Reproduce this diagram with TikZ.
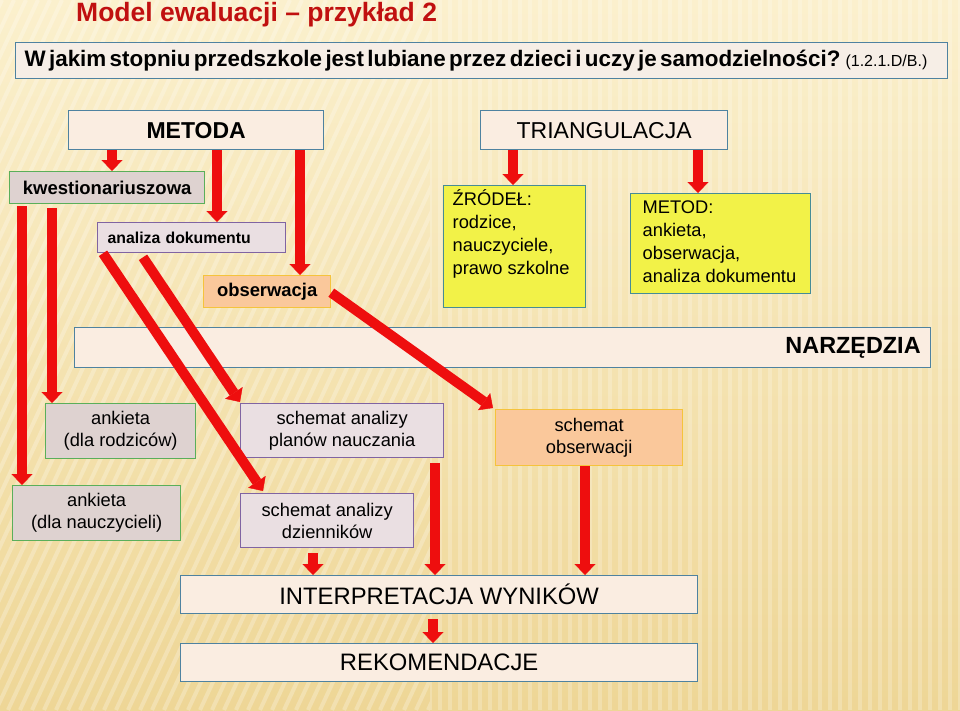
\documentclass[tikz,border=0pt]{standalone}
\usepackage{fontspec}
\setmainfont{Liberation Sans}
\usetikzlibrary{arrows.meta,calc}
\definecolor{bgtop}{RGB}{251,240,205}
\definecolor{bgbot}{RGB}{238,214,150}
\definecolor{titlered}{RGB}{192,16,16}
\definecolor{bluebd}{RGB}{78,130,160}
\definecolor{lightfill}{RGB}{250,237,225}
\definecolor{qfill}{RGB}{246,238,230}
\definecolor{greenbd}{RGB}{90,175,90}
\definecolor{greyfill}{RGB}{222,210,208}
\definecolor{purplebd}{RGB}{128,100,162}
\definecolor{purplefill}{RGB}{234,223,226}
\definecolor{orangefill}{RGB}{250,200,155}
\definecolor{goldbd}{RGB}{245,195,60}
\definecolor{yellowfill}{RGB}{242,242,72}
\definecolor{yellowbd}{RGB}{70,140,150}
\definecolor{arrowred}{RGB}{238,14,14}
\newcommand{\myfs}[2]{\fontsize{#1}{#2}\selectfont}
\begin{document}
\begin{tikzpicture}[x=1pt,y=-1pt,
  box/.style={draw, line width=1.3pt, inner sep=0pt, anchor=north west, align=center},
  lbox/.style={box, fill=lightfill, draw=bluebd},
  gbox/.style={box, fill=greyfill, draw=greenbd},
  pbox/.style={box, fill=purplefill, draw=purplebd},
  obox/.style={box, fill=orangefill, draw=goldbd},
  ybox/.style={box, fill=yellowfill, draw=yellowbd},
  arr/.style={draw=arrowred, line width=10pt, -{Triangle[width=21pt,length=11pt,line width=0.4pt]}},
  smalltxt/.style={font=\myfs{18.3}{22}}
]
\useasboundingbox (0,0) rectangle (960,710);
% background
\shade[top color=bgtop, bottom color=bgbot] (0,0) rectangle (960,710);
\begin{scope}
  \clip (0,0) rectangle (430,710);
  \foreach \i in {-400,-388,...,440} \draw[white, opacity=0.25, line width=4pt] (\i,710) -- ++(330,-710);
\end{scope}
\begin{scope}
  \clip (430,0) rectangle (960,710);
  \foreach \i in {430,440,...,960} \draw[white, opacity=0.22, line width=4pt] (\i,0) -- (\i,710);
\end{scope}

% x positions for vertical connectors
\coordinate (xA) at (112,0);
\coordinate (xB) at (217,0);
\coordinate (xC) at (300,0);
\coordinate (xD) at (513,0);
\coordinate (xE) at (698,0);
\coordinate (xF) at (22,0);
\coordinate (xG) at (52,0);
\coordinate (xH) at (435,0);
\coordinate (xI) at (313,0);
\coordinate (xJ) at (585,0);
\coordinate (xK) at (433,0);

% title
\node[anchor=base west, inner sep=0pt, text=titlered, font=\bfseries\myfs{26.5}{30}] (title) at (76,21) {Model ewaluacji – przykład 2};

% question
\node[lbox, fill=qfill, minimum width=932pt, minimum height=36pt, text width=914pt, align=left, inner xsep=9pt] (q) at (15,42)
  {{\bfseries\myfs{22.4}{26}W jakim stopniu przedszkole jest lubiane przez dzieci i uczy je samodzielności?} {\myfs{16}{20}(1.2.1.D/B.)}};

% top boxes
\node[lbox, minimum width=255pt, minimum height=39pt, font=\bfseries\myfs{23}{28}] (metoda) at (68,110) {METODA};
\node[lbox, minimum width=247pt, minimum height=39pt, font=\myfs{23}{28}] (tri) at (480,110) {TRIANGULACJA};

\node[gbox, minimum width=195pt, minimum height=32pt, font=\bfseries\myfs{18.5}{22}] (kw) at (9,171) {kwestionariuszowa};
\node[pbox, minimum width=188pt, minimum height=30pt, text width=168pt, inner xsep=10pt, align=left, font=\bfseries\myfs{15.8}{19}] (an) at (97,222) {analiza dokumentu};
\node[obox, minimum width=127pt, minimum height=32pt, font=\bfseries\myfs{18.4}{22}] (obs) at (203,275) {obserwacja};

\node[ybox, minimum width=142pt, minimum height=122pt] (zr) at (443,185)
  {\parbox[c][122pt][t]{124pt}{\raggedright\myfs{18.3}{23}\vspace*{4pt}ŹRÓDEŁ:\\rodzice,\\nauczyciele,\\prawo szkolne}};
\node[ybox, minimum width=180pt, minimum height=100pt] (met) at (630,193)
  {\parbox[c][100pt][t]{156pt}{\raggedright\myfs{18.3}{23}\vspace*{7pt}METOD:\\ankieta,\\obserwacja,\\analiza dokumentu}};

% tools bar
\node[lbox, minimum width=856pt, minimum height=40pt, text width=836pt, inner xsep=10pt, align=right, font=\bfseries\myfs{23.4}{28}] (narz) at (74,327) {NARZĘDZIA};

% tools
\node[gbox, minimum width=150pt, minimum height=55pt, smalltxt] (ank1) at (45,403) {ankieta\\(dla rodziców)};
\node[pbox, minimum width=203pt, minimum height=54pt, smalltxt] (plan) at (240,403) {schemat analizy\\planów nauczania};
\node[obox, minimum width=187pt, minimum height=56pt, smalltxt] (sobs) at (495,409) {schemat\\obserwacji};
\node[gbox, minimum width=168pt, minimum height=55pt, smalltxt] (ank2) at (12,485) {ankieta\\(dla nauczycieli)};
\node[pbox, minimum width=173pt, minimum height=54pt, smalltxt] (dz) at (240,493) {schemat analizy\\dzienników};

% results
\node[lbox, minimum width=517pt, minimum height=38pt, font=\myfs{23.8}{28}] (interp) at (180,575) {INTERPRETACJA WYNIKÓW};
\node[lbox, minimum width=517pt, minimum height=38pt, font=\myfs{23.8}{28}] (rek) at (180,643) {REKOMENDACJE};

% connectors
\draw[arr] (metoda.south -| xA) -- (kw.north -| xA);
\draw[arr] (metoda.south -| xB) -- (an.north -| xB);
\draw[arr] (metoda.south -| xC) -- (obs.north -| xC);
\draw[arr] (tri.south -| xD) -- (zr.north -| xD);
\draw[arr] (tri.south -| xE) -- (met.north -| xE);
\draw[arr] ($(kw.south -| xF)+(0,2)$) -- (ank2.north -| xF);
\draw[arr] ($(kw.south -| xG)+(0,4)$) -- (ank1.north -| xG);
\draw[arr] ($(an.south west)+(6,0)$) -- ($(dz.north west)+(23,-2)$);
\draw[arr] ($(an.south west)+(46,4)$) -- ($(plan.north west)+(0,-1)$);
\draw[arr] ($(obs.east)+(0,1)$) -- ($(sobs.north west)+(-2,-1)$);
\draw[arr] ($(plan.south -| xH)+(0,5)$) -- (interp.north -| xH);
\draw[arr] ($(dz.south -| xI)+(0,5)$) -- (interp.north -| xI);
\draw[arr] (sobs.south -| xJ) -- (interp.north -| xJ);
\draw[arr] ($(interp.south -| xK)+(0,5)$) -- (rek.north -| xK);
\end{tikzpicture}
\end{document}
